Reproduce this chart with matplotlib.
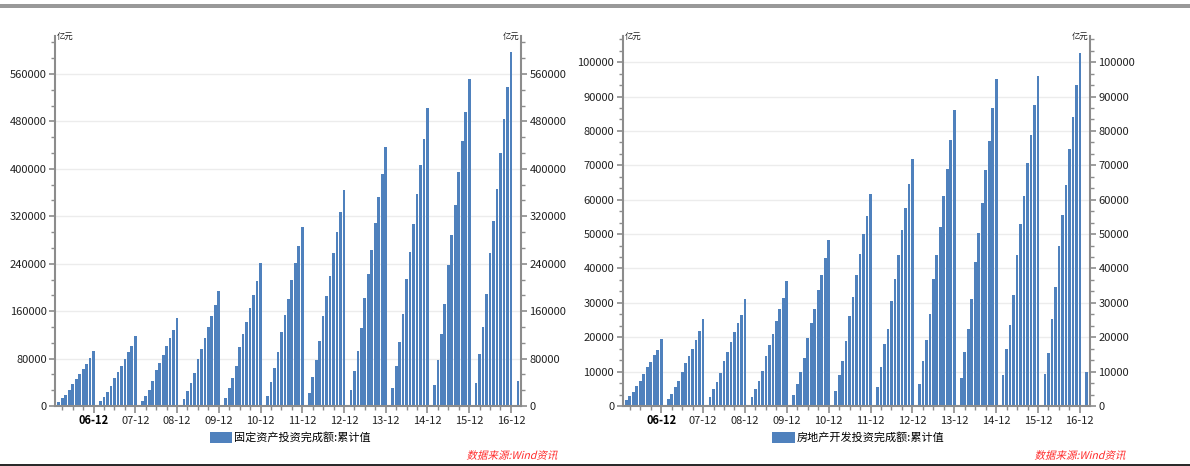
import matplotlib
matplotlib.use('Agg')
import matplotlib.pyplot as plt
from matplotlib.ticker import MultipleLocator, FixedLocator, FuncFormatter
from matplotlib.patches import Rectangle, PathPatch
from matplotlib.lines import Line2D
from matplotlib.textpath import TextPath
from matplotlib.font_manager import FontProperties
from matplotlib.transforms import Affine2D

plt.rcParams['font.family'] = ['Noto Sans CJK SC', 'DejaVu Sans']

# year labels for the December ticks
years = ['06', '07', '08', '09', '10', '11', '12', '13', '14', '15', '16']

# 固定资产投资完成额 累计值 (亿元), Feb..Dec of each year 2006-2016
fai = [
    [7300, 13500, 18600, 27000, 37100, 45600, 54000, 62500, 70900, 81000, 93369],
    [8100, 16000, 22800, 32900, 46400, 56500, 66700, 78500, 90300, 100400, 117464],
    [8100, 17700, 27800, 41400, 59900, 71700, 85200, 100400, 113900, 127400, 148738],
    [11000, 24500, 38000, 54900, 78500, 95400, 114000, 134000, 151000, 170000, 194139],
    [12700, 31200, 46400, 66700, 98700, 120700, 141000, 166000, 188000, 210000, 241415],
    [17700, 39700, 63300, 90300, 124000, 152800, 179800, 211800, 242000, 269000, 301933],
    [21600, 48600, 76800, 108900, 151100, 184900, 218600, 257500, 292900, 326700, 364835],
    [26200, 58300, 92000, 130800, 181400, 221900, 262500, 308000, 352000, 390800, 436528],
    [31200, 68300, 107200, 154400, 213500, 259100, 306300, 357000, 406000, 449800, 502005],
    [34600, 76800, 120700, 171300, 237100, 287800, 338400, 394100, 446400, 495400, 551590],
    [38000, 86900, 132500, 188200, 257400, 311400, 365400, 426200, 483600, 537600, 596501],
]
fai_2017 = [41378]

# 房地产开发投资完成额 累计值 (亿元)
rei = [
    [1600, 2800, 4200, 5700, 7400, 9400, 11200, 12900, 14700, 16400, 19423],
    [1900, 3600, 5400, 7400, 10000, 12400, 14400, 16700, 19300, 21700, 25280],
    [2500, 4800, 7100, 9700, 13200, 15800, 18500, 21400, 24000, 26600, 31203],
    [2500, 4800, 7400, 10300, 14400, 17600, 20800, 24600, 28100, 31500, 36232],
    [3100, 6500, 10000, 14100, 19900, 24000, 28300, 33600, 38200, 42900, 48259],
    [4500, 8900, 13200, 18800, 26300, 31800, 38000, 44300, 50100, 55200, 61740],
    [5400, 11200, 18000, 22500, 30610, 36828, 44000, 51046, 57700, 64700, 71804],
    [6500, 13200, 19300, 26900, 36828, 44012, 52200, 61120, 68800, 77500, 86013],
    [8000, 15600, 22500, 31000, 42019, 50400, 58900, 68751, 77200, 86800, 95036],
    [8870, 16700, 23700, 32300, 43955, 52800, 61200, 70535, 78900, 87600, 95979],
    [9236, 15400, 25400, 34700, 46631, 55400, 64400, 74598, 84150, 93387, 102581],
]
rei_2017 = [9854]

BLUE = '#4f81bd'
SPINE = '#8c8c8c'


def draw(ax, rows, tail, ymax, step, name):
    xs, vals = [], []
    for i, row in enumerate(rows):
        xs += [12 * i + k for k in range(1, 12)]
        vals += row
    xs += [12 * len(rows) + k for k in range(1, len(tail) + 1)]
    vals += tail
    ax.bar(xs, vals, width=0.78, color=BLUE, zorder=2, label=name)

    ax.set_xlim(-0.1, 133.9)
    ax.set_ylim(0, ymax)
    ax.yaxis.set_major_locator(MultipleLocator(step))
    ax.yaxis.set_minor_locator(MultipleLocator(step / 3))
    ax.yaxis.set_major_formatter(FuncFormatter(lambda v, p: '%d' % round(v)))

    ax.xaxis.set_major_locator(FixedLocator([12 * i + 11 for i in range(len(years))]))
    ax.xaxis.set_minor_locator(FixedLocator(list(range(2, 134, 3))))

    ax.tick_params(axis='y', which='both', left=True, right=True,
                   labelleft=True, labelright=True, direction='out',
                   color=SPINE, labelsize=8, labelcolor='#222222')
    ax.tick_params(axis='y', which='major', length=4, width=1.2, pad=2)
    ax.tick_params(axis='y', which='minor', length=3, width=1)
    ax.tick_params(axis='x', which='major', length=5, width=1.2, color=SPINE,
                   labelsize=8, labelcolor='#222222', pad=8)
    ax.tick_params(axis='x', which='minor', length=3, width=1, color=SPINE)

    # baseline alignment keeps the bold label level with the others
    labels = ax.set_xticklabels([y + '-12' for y in years], va='baseline')
    labels[0].set_fontweight('bold')
    labels[0].set_color('black')

    ax.yaxis.grid(True, color='#ececec', lw=1)
    ax.set_axisbelow(True)
    ax.spines['top'].set_visible(False)
    for s in ('left', 'right', 'bottom'):
        ax.spines[s].set_color(SPINE)
        ax.spines[s].set_linewidth(1.5)

    ax.text(0.004, 1.0, '亿元', transform=ax.transAxes, fontsize=6,
            ha='left', va='center', color='#222222')
    ax.text(0.996, 1.0, '亿元', transform=ax.transAxes, fontsize=6,
            ha='right', va='center', color='#222222')

    ax.legend(loc='center', bbox_to_anchor=(0.505, -0.085), frameon=False,
              fontsize=8, handlelength=2.0, handleheight=1.1, handletextpad=0.2,
              borderaxespad=0)


def slanted_text(fig, x_right, y_mid, s, size_px, color):
    # the CJK font has no italic face, so shear the outline instead
    path = TextPath((0, 0), s, size=size_px,
                    prop=FontProperties(family='Noto Sans CJK SC'))
    ext = path.get_extents()
    tr = (Affine2D().translate(-ext.x1, -(ext.y0 + ext.y1) / 2)
          .skew_deg(14, 0).translate(x_right, y_mid))
    patch = PathPatch(path, transform=tr, color=color, lw=0)
    fig.add_artist(patch)


W, H = 1190, 466
fig = plt.figure(figsize=(W / 100, H / 100), dpi=100, facecolor='white')

ax1 = fig.add_axes([55 / W, (H - 406) / H, 466 / W, 370 / H])
ax2 = fig.add_axes([622.5 / W, (H - 406) / H, 467.5 / W, 370 / H])

draw(ax1, fai, fai_2017, 624000, 80000, '固定资产投资完成额:累计值')
draw(ax2, rei, rei_2017, 107600, 10000, '房地产开发投资完成额:累计值')

for x in (558, 1126):
    slanted_text(fig, x, H - 455, '数据来源:Wind资讯', 10.5, '#ff2a2a')

# frame lines at top and bottom of the page
fig.add_artist(Rectangle((0, 1 - 7.5 / H), 1, 3.5 / H, transform=fig.transFigure,
                         color='#999999', lw=0))
fig.add_artist(Line2D([0, 1], [1 - 464.5 / H] * 2, transform=fig.transFigure,
                      color='black', lw=1.2))

fig.savefig('out.png', dpi=100)
